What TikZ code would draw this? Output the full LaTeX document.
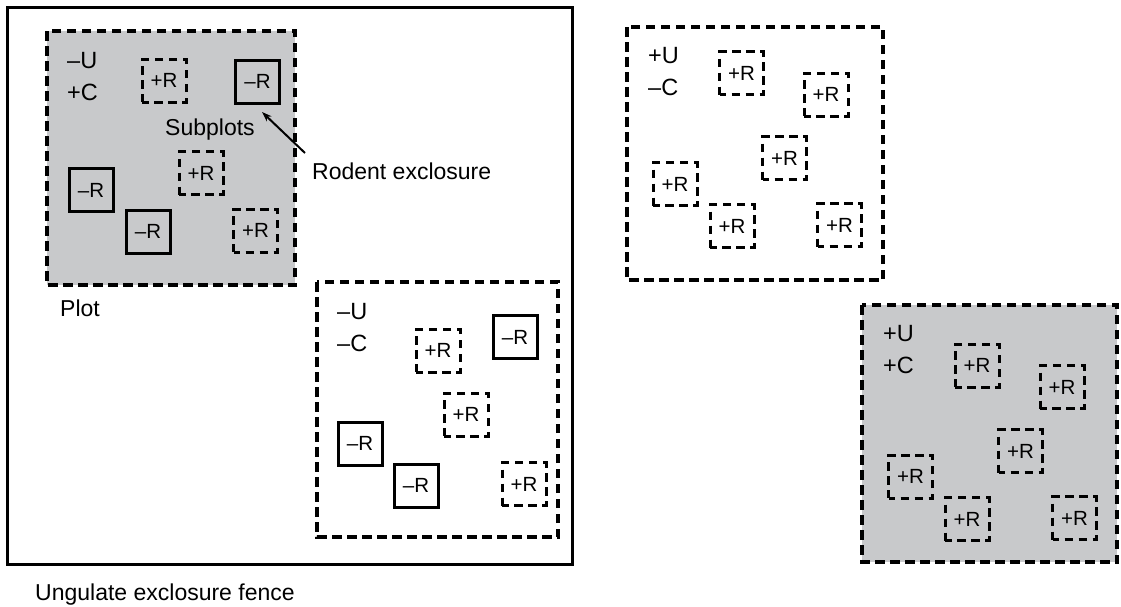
\documentclass[tikz,border=0pt]{standalone}
\usepackage{fontspec}
\setmainfont{Liberation Sans}
\usetikzlibrary{arrows.meta}
\definecolor{plotgray}{RGB}{200,201,203}
\tikzset{
  fence/.style={draw=black, line width=3pt},
  plotbox/.style={draw=black, line width=3.2pt, dash pattern=on 9.5pt off 5.5pt},
  grayplot/.style={plotbox, fill=plotgray},
  subbase/.style={draw=black, minimum width=44pt, minimum height=43pt, inner sep=0pt,
                  font=\fontsize{20.5}{24}\selectfont},
  plusR/.style={subbase, line width=3pt, dash pattern=on 8.5pt off 5.5pt, dash phase=2pt},
  minusR/.style={subbase, line width=3pt},
  treat/.style={anchor=base west, inner sep=0pt, align=left, font=\fontsize{23.5}{32}\selectfont},
  lbl/.style={anchor=base west, inner sep=0pt, font=\fontsize{23}{28}\selectfont},
}
\begin{document}
\begin{tikzpicture}[x=1pt,y=-1pt]
\useasboundingbox (0,0) rectangle (1121,606);
% ungulate exclosure fence
\draw[fence] (7,7) rectangle (572,564);
% plots
\path[grayplot] (47,31) rectangle (295,285);
\path[plotbox] (317,282) rectangle (558,537);
\path[plotbox] (627,27) rectangle (883,280);
\path[grayplot] (862,305) rectangle (1117,562);
% plot 1 (-U +C)
\node[treat] (t1) at (67,100) {–U\\+C};
\node[plusR]  (p1a) at (164,80.5) {+R};
\node[minusR] (p1b) at (257.5,81.5) {–R};
\node[plusR]  (p1c) at (201,173) {+R};
\node[minusR] (p1d) at (91,190) {–R};
\node[minusR] (p1e) at (148,231.5) {–R};
\node[plusR]  (p1f) at (255.5,230.5) {+R};
% plot 2 (-U -C)
\node[treat] (t2) at (337,351) {–U\\–C};
\node[plusR]  (p2a) at (438,350.5) {+R};
\node[minusR] (p2b) at (515,337) {–R};
\node[plusR]  (p2c) at (466,414.5) {+R};
\node[minusR] (p2d) at (360,443.5) {–R};
\node[minusR] (p2e) at (416,485.5) {–R};
\node[plusR]  (p2f) at (524,484) {+R};
% plot 3 (+U -C)
\node[treat] (t3) at (648,95) {+U\\–C};
\node[plusR] (p3a) at (741.5,73) {+R};
\node[plusR] (p3b) at (826,94.5) {+R};
\node[plusR] (p3c) at (784.5,158) {+R};
\node[plusR] (p3d) at (675,184) {+R};
\node[plusR] (p3e) at (732,226) {+R};
\node[plusR] (p3f) at (839.5,225) {+R};
% plot 4 (+U +C)
\node[treat] (t4) at (883,373) {+U\\+C};
\node[plusR] (p4a) at (977,365.5) {+R};
\node[plusR] (p4b) at (1062,387) {+R};
\node[plusR] (p4c) at (1020.5,451) {+R};
\node[plusR] (p4d) at (910.5,476.5) {+R};
\node[plusR] (p4e) at (967,519) {+R};
\node[plusR] (p4f) at (1074.5,518) {+R};
% labels
\node[lbl] (subplots) at (165,135) {Subplots};
\node[lbl] (rodent) at (312,179) {Rodent exclosure};
\node[lbl] (plotlbl) at (60,316) {Plot};
\node[lbl] (fencelbl) at (35,600) {Ungulate exclosure fence};
% arrow
\coordinate (arrtail) at (305,153);
\coordinate (arrhead) at (262,112);
\draw[line width=2pt, -{Stealth[length=10pt,width=7pt]}] (arrtail) -- (arrhead);
\end{tikzpicture}
\end{document}
